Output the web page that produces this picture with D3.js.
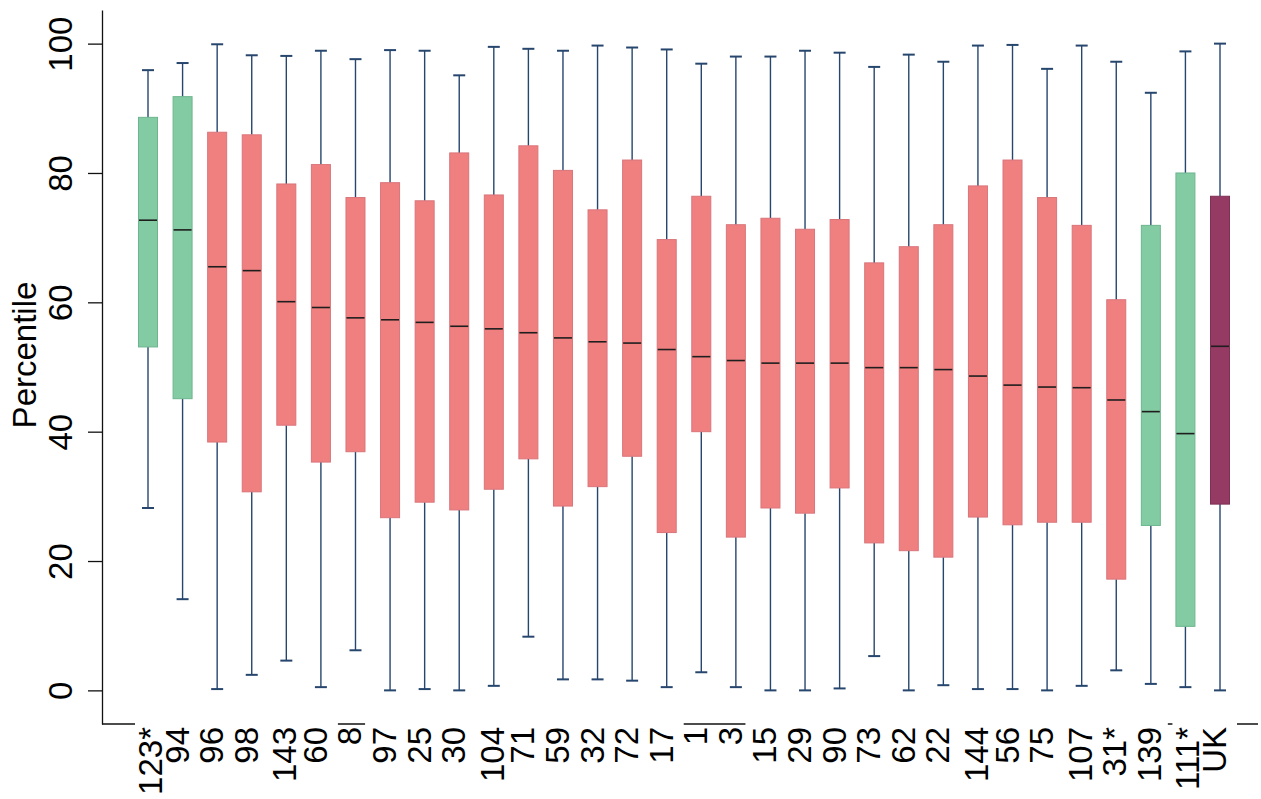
<!DOCTYPE html>
<html>
<head>
<meta charset="utf-8">
<script src="https://cdn.jsdelivr.net/npm/d3@7"></script>
<style>
  html, body { margin: 0; padding: 0; background: #fff; }
  svg { display: block; font-family: "Liberation Sans", Arial, sans-serif; }
</style>
</head>
<body>
<svg id="chart" width="1261" height="799"></svg>
<script>
// Percentile distribution per area: whisker ends, quartiles and median
const categories = ["123*", "94", "96", "98", "143", "60", "8", "97", "25", "30", "104", "71", "59", "32", "72", "17",
                    "1", "3", "15", "29", "90", "73", "62", "22", "144", "56", "75", "107", "31*", "139", "111*", "UK"];
const lowValues = [28.2, 14.1, 0.2, 2.4, 4.6, 0.5, 6.2, 0.0, 0.2, 0.0, 0.7, 8.3, 1.7, 1.7, 1.5, 0.5,
                   2.8, 0.5, 0.0, 0.0, 0.3, 5.3, 0.0, 0.8, 0.2, 0.2, 0.0, 0.7, 3.1, 1.0, 0.5, 0.0];
const q1Values = [53.1, 45.1, 38.4, 30.7, 41.0, 35.3, 36.9, 26.7, 29.1, 27.9, 31.1, 35.8, 28.5, 31.5, 36.2, 24.4,
                  40.0, 23.7, 28.2, 27.4, 31.3, 22.8, 21.6, 20.6, 26.8, 25.6, 26.0, 26.0, 17.2, 25.5, 9.9, 28.8];
const medianValues = [72.7, 71.2, 65.5, 64.9, 60.1, 59.2, 57.6, 57.3, 56.9, 56.3, 55.9, 55.3, 54.5, 53.9, 53.7, 52.7,
                      51.6, 51.0, 50.6, 50.6, 50.6, 49.9, 49.9, 49.6, 48.6, 47.2, 46.9, 46.8, 44.9, 43.1, 39.7, 53.2];
const q3Values = [88.6, 91.8, 86.3, 85.9, 78.3, 81.3, 76.2, 78.5, 75.7, 83.1, 76.6, 84.2, 80.4, 74.3, 82.0, 69.7,
                  76.4, 72.0, 73.0, 71.3, 72.8, 66.1, 68.6, 72.0, 78.0, 82.0, 76.2, 71.9, 60.4, 71.9, 80.0, 76.4];
const highValues = [95.9, 97.0, 99.9, 98.2, 98.1, 98.9, 97.6, 99.0, 98.9, 95.1, 99.5, 99.2, 98.9, 99.7, 99.4, 99.1,
                    96.9, 98.0, 98.0, 98.9, 98.6, 96.4, 98.3, 97.2, 99.7, 99.8, 96.1, 99.7, 97.2, 92.4, 98.8, 100.0];
const groupOf = ["green", "green", "red", "red", "red", "red", "red", "red", "red", "red", "red", "red", "red", "red", "red", "red",
                 "red", "red", "red", "red", "red", "red", "red", "red", "red", "red", "red", "red", "red", "green", "green", "uk"];
const yTickValues = [0, 20, 40, 60, 80, 100];
const yTitle = "Percentile";

const fills = { green: "#83cba3", red: "#f08080", uk: "#943a63" };
const edges = { green: "#6db58e", red: "#d9747a", uk: "#7e3055" };

const svg = d3.select("#chart");
const axisLeftX = 102, axisBottomY = 724, plotTop = 10, plotRight = 1258;
const fontSize = 33;

const x = d3.scalePoint().domain(categories).range([148, 1220]);
const y = d3.scaleLinear().domain([-5.2, 105.2]).range([axisBottomY, plotTop]);

const rows = categories.map((c, i) => ({
  cat: c, lo: lowValues[i], q1: q1Values[i], med: medianValues[i], q3: q3Values[i], hi: highValues[i], grp: groupOf[i]
}));

const boxW = 19, capW = 12, whiskerColor = "#27466e";

// Whiskers with end caps
const wg = svg.append("g").attr("stroke", whiskerColor).attr("stroke-width", 1.4);
rows.forEach(d => {
  const cx = x(d.cat);
  wg.append("line").attr("x1", cx).attr("x2", cx).attr("y1", y(d.q3)).attr("y2", y(d.hi));
  wg.append("line").attr("x1", cx).attr("x2", cx).attr("y1", y(d.q1)).attr("y2", y(d.lo));
  wg.append("line").attr("x1", cx - capW / 2).attr("x2", cx + capW / 2).attr("y1", y(d.hi)).attr("y2", y(d.hi)).attr("stroke-width", 2);
  wg.append("line").attr("x1", cx - capW / 2).attr("x2", cx + capW / 2).attr("y1", y(d.lo)).attr("y2", y(d.lo)).attr("stroke-width", 2);
});

// Interquartile boxes and medians
const bg = svg.append("g");
bg.selectAll("rect.box").data(rows).join("rect")
  .attr("class", "box")
  .attr("x", d => x(d.cat) - boxW / 2)
  .attr("width", boxW)
  .attr("y", d => y(d.q3))
  .attr("height", d => y(d.q1) - y(d.q3))
  .attr("fill", d => fills[d.grp])
  .attr("stroke", d => edges[d.grp])
  .attr("stroke-width", 1);
bg.selectAll("line.median").data(rows).join("line")
  .attr("class", "median")
  .attr("x1", d => x(d.cat) - boxW / 2 + 0.5)
  .attr("x2", d => x(d.cat) + boxW / 2 - 0.5)
  .attr("y1", d => y(d.med))
  .attr("y2", d => y(d.med))
  .attr("stroke", "#1e1e1e")
  .attr("stroke-width", 1.6);

// Y axis
const yAxis = d3.axisLeft(y).tickValues(yTickValues).tickSize(14).tickSizeOuter(0).tickPadding(16);
const ya = svg.append("g").attr("transform", `translate(${axisLeftX},0)`).call(yAxis);
ya.select(".domain").attr("stroke", "#111").attr("stroke-width", 1.3);
ya.selectAll(".tick line").attr("stroke", "#111").attr("stroke-width", 1.3);
ya.selectAll(".tick text")
  .attr("font-size", fontSize)
  .attr("font-family", "Liberation Sans, Arial, sans-serif")
  .attr("fill", "#000")
  .attr("text-anchor", "middle")
  .attr("dy", null)
  .attr("x", null)
  .attr("transform", "translate(-30,0) rotate(-90)");

svg.append("text")
  .attr("transform", `translate(36,355) rotate(-90)`)
  .attr("text-anchor", "middle")
  .attr("font-size", fontSize)
  .attr("fill", "#000")
  .text(yTitle);

// X axis line, then category labels on white label boxes
svg.append("line")
  .attr("x1", axisLeftX).attr("x2", plotRight)
  .attr("y1", axisBottomY).attr("y2", axisBottomY)
  .attr("stroke", "#111").attr("stroke-width", 1.3);

const lg = svg.append("g");
rows.forEach(d => {
  const cx = x(d.cat), n = d.cat.length;
  if (n > 1) {
    const left = cx - 25 + 6 * Math.max(0, n - 2);
    lg.append("rect")
      .attr("x", left).attr("width", cx + 17 - left)
      .attr("y", 718).attr("height", 81)
      .attr("fill", "#fff");
  }
});
rows.forEach(d => {
  const cx = x(d.cat), n = d.cat.length;
  const baseX = cx + 6 + 4 * Math.max(0, n - 2);
  lg.append("text")
    .attr("transform", `translate(${baseX},727) rotate(-90)`)
    .attr("text-anchor", "end")
    .attr("font-size", fontSize)
    .attr("fill", "#000")
    .text(d.cat);
});
</script>
</body>
</html>
